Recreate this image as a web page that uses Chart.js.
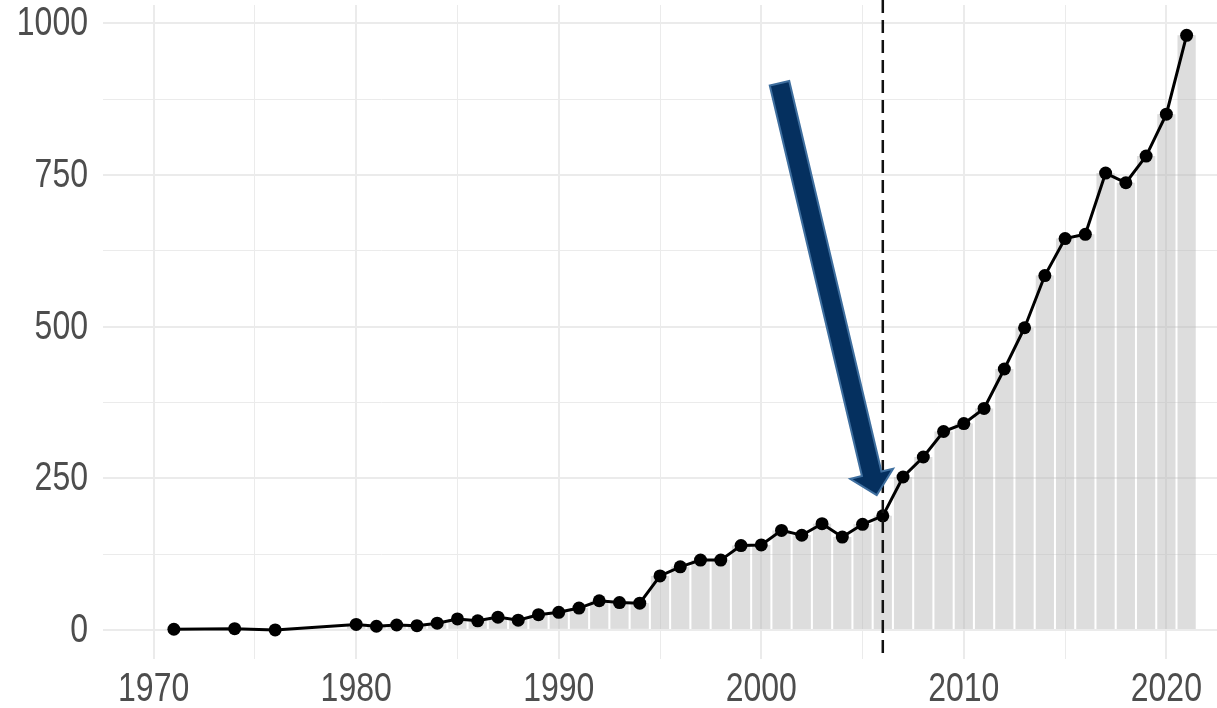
<!DOCTYPE html>
<html>
<head>
<meta charset="utf-8">
<script src="https://cdn.jsdelivr.net/npm/chart.js@4"></script>
<style>
    body { margin: 0; background: #ffffff; overflow: hidden; }
    canvas { display: block; }
</style>
</head>
<body>
<canvas id="chartYears" width="1217" height="708"></canvas>
<script>
// counts per year
var years = [1971, 1974, 1976, 1980, 1981, 1982, 1983, 1984, 1985, 1986, 1987, 1988, 1989,
    1990, 1991, 1992, 1993, 1994, 1995, 1996, 1997, 1998, 1999, 2000, 2001, 2002, 2003,
    2004, 2005, 2006, 2007, 2008, 2009, 2010, 2011, 2012, 2013, 2014, 2015, 2016, 2017,
    2018, 2019, 2020, 2021];
var counts = [1, 2, 0, 9, 6, 8, 7, 11, 18, 15, 21, 16, 25,
    29, 36, 48, 45, 44, 89, 104, 115, 115, 139, 140, 164, 156, 175,
    153, 174, 188, 252, 285, 327, 340, 365, 430, 498, 584, 645, 652, 753,
    737, 781, 850, 980];

var xTicks = [1970, 1975, 1980, 1985, 1990, 1995, 2000, 2005, 2010, 2015, 2020];
var xLabels = [1970, 1980, 1990, 2000, 2010, 2020];
var yTicks = [0, 125, 250, 375, 500, 625, 750, 875, 1000];
var yLabels = [0, 250, 500, 750, 1000];

// marker year and the arrow pointing at it (year, count)
var markerYear = 2006;
var arrowFrom = [2000.9, 901];
var arrowTo = [2005.7, 222];

var points = [];
for (var i = 0; i < years.length; i++) {
    points.push({x: years[i], y: counts[i]});
}

function gridWidth(ctx, labels) {
    if (!ctx.tick) {
        return 1;
    }
    return labels.indexOf(ctx.tick.value) >= 0 ? 2 : 1;
}

// narrow tick text: the installed fonts have no narrow face, so squeeze Liberation Sans
function narrowText(c, text, x, y, align) {
    c.save();
    c.translate(x, y);
    c.scale(0.8, 1);
    c.textAlign = align;
    c.textBaseline = 'middle';
    c.fillText(text, 0, 0);
    c.restore();
}

var labelPlugin = {
    id: 'narrowLabels',
    afterDraw: function(chart) {
        var c = chart.ctx;
        var area = chart.chartArea;
        c.save();
        c.fillStyle = '#4d4d4d';
        c.font = '40px "Liberation Sans", Arial, sans-serif';
        xLabels.forEach(function(v) {
            narrowText(c, String(v), chart.scales.x.getPixelForValue(v), area.bottom + 31, 'center');
        });
        yLabels.forEach(function(v) {
            narrowText(c, String(v), area.left - 15, chart.scales.y.getPixelForValue(v) + 1, 'right');
        });
        c.restore();
    }
};

var markerPlugin = {
    id: 'marker',
    afterDatasetsDraw: function(chart) {
        var c = chart.ctx;
        var xs = chart.scales.x;
        var ys = chart.scales.y;
        var area = chart.chartArea;

        // dashed vertical line
        var px = xs.getPixelForValue(markerYear);
        c.save();
        c.strokeStyle = '#111111';
        c.lineWidth = 2.5;
        c.setLineDash([13, 7]);
        c.beginPath();
        c.moveTo(px, 0);
        c.lineTo(px, area.bottom);
        c.stroke();
        c.restore();

        // block arrow
        var x0 = xs.getPixelForValue(arrowFrom[0]), y0 = ys.getPixelForValue(arrowFrom[1]);
        var x1 = xs.getPixelForValue(arrowTo[0]), y1 = ys.getPixelForValue(arrowTo[1]);
        var len = Math.sqrt((x1 - x0) * (x1 - x0) + (y1 - y0) * (y1 - y0));
        var ux = (x1 - x0) / len, uy = (y1 - y0) / len;
        var nx = -uy, ny = ux;
        var shaft = 10, head = 22, headLen = 22;
        var bx = x1 - ux * headLen, by = y1 - uy * headLen;

        c.save();
        c.beginPath();
        c.moveTo(x0 + nx * shaft, y0 + ny * shaft);
        c.lineTo(bx + nx * shaft, by + ny * shaft);
        c.lineTo(bx + nx * head, by + ny * head);
        c.lineTo(x1, y1);
        c.lineTo(bx - nx * head, by - ny * head);
        c.lineTo(bx - nx * shaft, by - ny * shaft);
        c.lineTo(x0 - nx * shaft, y0 - ny * shaft);
        c.closePath();
        c.fillStyle = '#05305f';
        c.fill();
        c.lineWidth = 2;
        c.strokeStyle = '#3f6f9f';
        c.stroke();
        c.restore();
    }
};

new Chart(document.getElementById('chartYears'), {
    type: 'bar',
    data: {
        datasets: [{
            type: 'line',
            data: points,
            borderColor: '#000000',
            borderWidth: 3,
            pointRadius: 6.5,
            pointBackgroundColor: '#000000',
            pointBorderWidth: 0,
            tension: 0,
            order: 0
        }, {
            type: 'bar',
            data: points,
            backgroundColor: 'rgba(180,180,180,0.45)',
            borderWidth: 0,
            categoryPercentage: 1,
            barPercentage: 0.9,
            order: 1
        }]
    },
    options: {
        responsive: false,
        animation: false,
        layout: { autoPadding: false, padding: { top: 5, right: 0, left: 0, bottom: 0 } },
        plugins: {
            legend: { display: false },
            tooltip: { enabled: false }
        },
        scales: {
            x: {
                type: 'linear',
                min: 1967.5,
                max: 2022.5,
                offset: false,
                afterBuildTicks: function(scale) {
                    scale.ticks = xTicks.map(function(v) { return {value: v}; });
                },
                afterFit: function(scale) {
                    scale.height = 49;
                    scale.paddingLeft = 0;
                    scale.paddingRight = 0;
                },
                border: { display: false },
                grid: {
                    offset: false,
                    color: '#ebebeb',
                    lineWidth: function(ctx) { return gridWidth(ctx, xLabels); },
                    drawTicks: false
                },
                ticks: { display: false }
            },
            y: {
                min: -48,
                max: 1030,
                afterBuildTicks: function(scale) {
                    scale.ticks = yTicks.map(function(v) { return {value: v}; });
                },
                afterFit: function(scale) {
                    scale.width = 103;
                    scale.paddingTop = 0;
                    scale.paddingBottom = 0;
                },
                border: { display: false },
                grid: {
                    color: '#ebebeb',
                    lineWidth: function(ctx) { return gridWidth(ctx, yLabels); },
                    drawTicks: false
                },
                ticks: { display: false }
            }
        }
    },
    plugins: [markerPlugin, labelPlugin]
});
</script>
</body>
</html>
